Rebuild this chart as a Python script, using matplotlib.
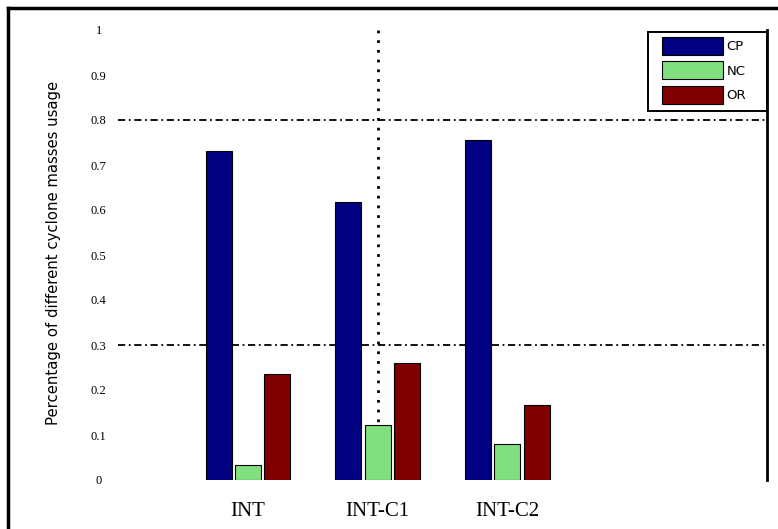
import matplotlib
matplotlib.use("Agg")
import matplotlib.pyplot as plt
import numpy as np
from matplotlib.lines import Line2D
from matplotlib.patches import Rectangle

categories = ["INT", "INT-C1", "INT-C2"]
series_names = ["CP", "NC", "OR"]
cp_values = [0.731, 0.618, 0.755]
nc_values = [0.033, 0.123, 0.080]
or_values = [0.236, 0.260, 0.166]
ytick_values = [0, 0.1, 0.2, 0.3, 0.4, 0.5, 0.6, 0.7, 0.8, 0.9, 1]
ytick_labels = ["0", "0.1", "0.2", "0.3", "0.4", "0.5", "0.6", "0.7", "0.8", "0.9", "1"]

colors = ["#000080", "#80e080", "#800000"]

plt.rcParams['font.family'] = ['Liberation Serif', 'DejaVu Serif']

fig = plt.figure(figsize=(7.78, 5.29), dpi=100)
ax = fig.add_axes([118/778, 1-480/529, (767-118)/778, (480-30)/529])

x = np.arange(1, len(categories) + 1)
w = 0.2
offs = [-0.225, 0, 0.225]
for vals, name, c, o in zip([cp_values, nc_values, or_values], series_names, colors, offs):
    ax.bar(x + o, vals, width=w, color=c, edgecolor="black", linewidth=0.8, label=name, zorder=3)

ax.set_xlim(0, 5)
ax.set_ylim(0, 1)
ax.set_xticks(x)
ax.set_xticklabels(categories, fontsize=15)
ax.set_yticks(ytick_values)
ax.set_yticklabels(ytick_labels, fontsize=9)
ax.tick_params(axis='x', length=0, pad=16)
ax.tick_params(axis='y', length=0, pad=14)
for t in ax.get_yticklabels():
    t.set_horizontalalignment('center')

for s in ["left", "top", "bottom"]:
    ax.spines[s].set_visible(False)
ax.spines["right"].set_linewidth(2)

for yv in [0.3, 0.8]:
    ax.axhline(yv, color="black", linestyle=(0, (4, 2, 1, 2)), linewidth=1.3, zorder=1)
ax.axvline(2, color="black", linestyle=(0, (1, 2.5)), linewidth=2, zorder=1)

ax.set_ylabel("Percentage of different cyclone masses usage", fontsize=10.7,
              family=['DejaVu Sans'])
ax.yaxis.set_label_coords(-0.088, 0.505)

# legend frame drawn separately (reference has wide side padding, small top/bottom padding)
frame = Rectangle((0.8166, 0.82), 1.0 - 0.8166, 0.9956 - 0.82, transform=ax.transAxes,
                  facecolor="white", edgecolor="black", linewidth=1.4, zorder=5, clip_on=False)
ax.add_patch(frame)
leg = ax.legend(loc="upper left", bbox_to_anchor=(0.8382, 0.9844), handlelength=4.6,
                handleheight=1.7, borderaxespad=0, frameon=False,
                labelspacing=0.5, handletextpad=0.3, borderpad=0,
                prop={'family': ['DejaVu Sans'], 'size': 9.5})
leg.set_zorder(6)

fig.add_artist(Line2D([8/778, 8/778], [0, 1-8/529], color="black", linewidth=2.5, transform=fig.transFigure))
fig.add_artist(Line2D([8/778, 1], [1-8/529, 1-8/529], color="black", linewidth=2.5, transform=fig.transFigure))

fig.savefig("out.png", dpi=100)
